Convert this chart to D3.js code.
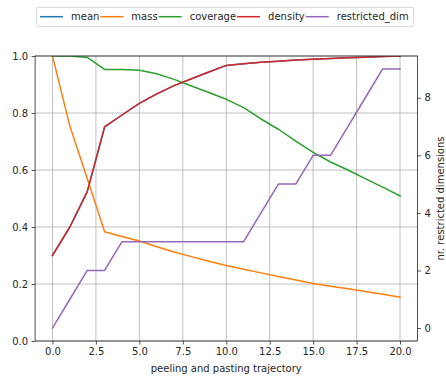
<!DOCTYPE html>
<html>
<head>
<meta charset="utf-8">
<script src="https://cdn.jsdelivr.net/npm/d3@7"></script>
<style>
  html, body { margin: 0; padding: 0; background: #fff; }
  svg { display: block; font-family: "DejaVu Sans", sans-serif; }
</style>
</head>
<body>
<svg id="chart" width="446" height="379"></svg>
<script>
// Peeling trajectory of a PRIM box search
const steps = [0, 1, 2, 3, 4, 5, 6, 7, 8, 9, 10, 11, 12, 13, 14, 15, 16, 17, 18, 19, 20];
const mean = [0.30, 0.40, 0.524, 0.751, 0.793, 0.834, 0.867, 0.896, 0.920, 0.944, 0.967, 0.973, 0.978, 0.982, 0.986, 0.989, 0.991, 0.994, 0.996, 0.998, 1.0];
const mass = [1.0, 0.754, 0.57, 0.383, 0.367, 0.351, 0.331, 0.312, 0.296, 0.280, 0.265, 0.252, 0.239, 0.226, 0.214, 0.202, 0.192, 0.183, 0.174, 0.164, 0.154];
const coverage = [1.0, 1.0, 0.995, 0.953, 0.953, 0.950, 0.938, 0.918, 0.895, 0.872, 0.848, 0.819, 0.779, 0.743, 0.701, 0.662, 0.628, 0.600, 0.570, 0.540, 0.509];
const density = [0.30, 0.40, 0.524, 0.751, 0.793, 0.834, 0.867, 0.896, 0.920, 0.944, 0.967, 0.973, 0.978, 0.982, 0.986, 0.989, 0.991, 0.994, 0.996, 0.998, 1.0];
const restrictedDim = [0, 1, 2, 2, 3, 3, 3, 3, 3, 3, 3, 3, 4, 5, 5, 6, 6, 7, 8, 9, 9];

const xTicks = [0, 2.5, 5, 7.5, 10, 12.5, 15, 17.5, 20];
const yTicks = [0, 0.2, 0.4, 0.6, 0.8, 1.0];
const y2Ticks = [0, 2, 4, 6, 8];

const leftSeries = [
  { name: "mean", values: mean, color: "#1f77b4" },
  { name: "mass", values: mass, color: "#ff7f0e" },
  { name: "coverage", values: coverage, color: "#2ca02c" },
  { name: "density", values: density, color: "#d62728" }
];
const rightSeries = { name: "restricted_dim", values: restrictedDim, color: "#9467bd" };

const svg = d3.select("#chart");
const plot = { left: 35.1, right: 417.4, top: 56, bottom: 341 };

const x = d3.scaleLinear().domain([-1, 21]).range([plot.left, plot.right]);
const y = d3.scaleLinear().domain([0, 1]).range([plot.bottom, plot.top]);
const y2 = d3.scaleLinear().domain([-0.45, 9.45]).range([plot.bottom, plot.top]);

svg.append("defs").append("clipPath").attr("id", "plot-clip")
  .append("rect")
  .attr("x", plot.left).attr("y", plot.top)
  .attr("width", plot.right - plot.left).attr("height", plot.bottom - plot.top);

// grid
const grid = svg.append("g").attr("stroke", "#b0b0b0").attr("stroke-width", 0.8);
grid.selectAll("line.vx").data(xTicks).join("line")
  .attr("x1", d => x(d)).attr("x2", d => x(d))
  .attr("y1", plot.top).attr("y2", plot.bottom);
grid.selectAll("line.hy").data(yTicks).join("line")
  .attr("y1", d => y(d)).attr("y2", d => y(d))
  .attr("x1", plot.left).attr("x2", plot.right);

// series lines
const lines = svg.append("g").attr("clip-path", "url(#plot-clip)")
  .attr("fill", "none").attr("stroke-width", 1.5)
  .attr("stroke-linejoin", "round").attr("stroke-linecap", "square");

leftSeries.forEach(s => {
  const line = d3.line().x((d, i) => x(steps[i])).y(d => y(d));
  lines.append("path").attr("d", line(s.values)).attr("stroke", s.color);
});
{
  const line2 = d3.line().x((d, i) => x(steps[i])).y(d => y2(d));
  lines.append("path").attr("d", line2(rightSeries.values)).attr("stroke", rightSeries.color);
}

// axes
const tickFmt = d3.format(".1f");
const axisStyle = g => {
  g.selectAll("text").attr("font-size", 10).attr("fill", "#262626")
    .attr("font-family", "DejaVu Sans, sans-serif");
  g.selectAll(".tick line").attr("stroke", "#262626").attr("stroke-width", 0.8);
  g.select(".domain").remove();
};

svg.append("g").attr("transform", `translate(0,${plot.bottom})`)
  .call(d3.axisBottom(x).tickValues(xTicks).tickFormat(tickFmt).tickSize(3.5).tickPadding(3.5))
  .call(axisStyle);
svg.append("g").attr("transform", `translate(${plot.left},0)`)
  .call(d3.axisLeft(y).tickValues(yTicks).tickFormat(tickFmt).tickSize(3.5).tickPadding(3.5))
  .call(axisStyle);
svg.append("g").attr("transform", `translate(${plot.right},0)`)
  .call(d3.axisRight(y2).tickValues(y2Ticks).tickFormat(d3.format("d")).tickSize(3.5).tickPadding(3.5))
  .call(axisStyle);

// frame
svg.append("rect")
  .attr("x", plot.left).attr("y", plot.top)
  .attr("width", plot.right - plot.left).attr("height", plot.bottom - plot.top)
  .attr("fill", "none").attr("stroke", "#262626").attr("stroke-width", 0.8);

// axis titles
svg.append("text")
  .attr("x", (plot.left + plot.right) / 2).attr("y", 371.5)
  .attr("text-anchor", "middle").attr("font-size", 10).attr("fill", "#262626")
  .text("peeling and pasting trajectory");
svg.append("text")
  .attr("transform", `translate(443.5,${(plot.top + plot.bottom) / 2}) rotate(-90)`)
  .attr("text-anchor", "middle").attr("font-size", 10).attr("fill", "#262626")
  .text("nr. restricted dimensions");

// legend
const legendItems = leftSeries.concat([rightSeries]);
const legend = svg.append("g");
const box = legend.append("rect")
  .attr("rx", 2).attr("ry", 2)
  .attr("fill", "#fff").attr("fill-opacity", 0.8)
  .attr("stroke", "#cccccc").attr("stroke-width", 0.8);
let cx = 40;
const ly = 16.7;
legendItems.forEach(s => {
  legend.append("line")
    .attr("x1", cx).attr("x2", cx + 23)
    .attr("y1", ly).attr("y2", ly)
    .attr("stroke", s.color).attr("stroke-width", 1.5);
  const t = legend.append("text")
    .attr("x", cx + 31).attr("y", ly).attr("dy", "0.35em")
    .attr("font-size", 10).attr("fill", "#262626")
    .text(s.name);
  cx += 31 + t.node().getComputedTextLength() + 1;
});
box.attr("x", 36.7).attr("y", 7.3).attr("width", cx + 4 - 36.7).attr("height", 19.4);
</script>
</body>
</html>
